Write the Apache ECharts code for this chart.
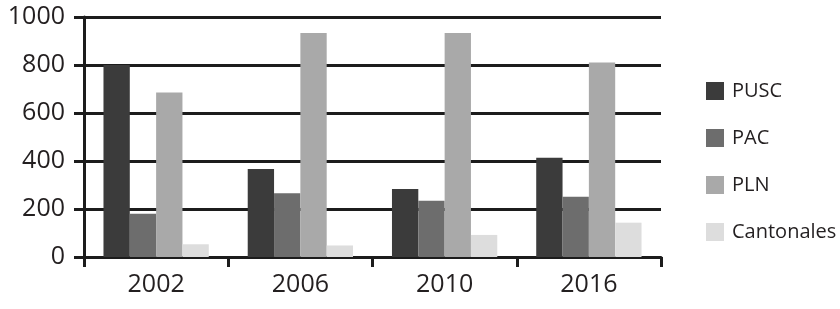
<!DOCTYPE html>
<html>
<head>
<meta charset="utf-8">
<style>
  html, body { margin: 0; padding: 0; background: #fff; }
  #chart { width: 840px; height: 309px; }
</style>
<script src="https://cdn.jsdelivr.net/npm/echarts@6/dist/echarts.min.js"></script>
</head>
<body>
<div id="chart"></div>
<script>
// datos
const years = ['2002', '2006', '2010', '2016'];
const pusc = [800, 367, 283, 414];
const pac = [180, 266, 234, 251];
const pln = [685, 933, 933, 810];
const cantonales = [53, 48, 92, 143];
const yTicks = [0, 200, 400, 600, 800, 1000];

const names = ['PUSC', 'PAC', 'PLN', 'Cantonales'];
const values = [pusc, pac, pln, cantonales];
const colors = ['#3b3b3b', '#6d6d6d', '#a9a9a9', '#dddddd'];

const textColor = '#231f20';
const lineColor = '#1c1c1c';
const font = '"Open Sans", "Noto Sans", sans-serif';

const chart = echarts.init(document.getElementById('chart'));

chart.setOption({
  animation: false,
  backgroundColor: '#fff',
  grid: { left: 84, right: 179, top: 17, bottom: 52 },
  legend: {
    orient: 'vertical',
    left: 701,
    top: 76,
    icon: 'rect',
    itemWidth: 18,
    itemHeight: 18,
    itemGap: 27,
    textStyle: { fontFamily: font, fontSize: 20, color: textColor, lineHeight: 18, padding: [0, 0, 0, 3] },
    data: names
  },
  xAxis: {
    type: 'category',
    data: years,
    boundaryGap: true,
    axisLine: { lineStyle: { color: lineColor, width: 3 } },
    axisTick: { show: true, length: 10, lineStyle: { color: lineColor, width: 3 } },
    axisLabel: { fontFamily: font, fontSize: 25, color: textColor, margin: 15 }
  },
  yAxis: {
    type: 'value',
    min: yTicks[0],
    max: yTicks[yTicks.length - 1],
    interval: 200,
    axisLine: { show: true, lineStyle: { color: lineColor, width: 3 } },
    axisTick: { show: true, length: 10, lineStyle: { color: lineColor, width: 3 } },
    splitLine: { lineStyle: { color: lineColor, width: 3 } },
    axisLabel: {
      fontFamily: font, fontSize: 25, color: textColor, margin: 19,
      formatter: v => String(v)
    }
  },
  series: names.map((n, i) => ({
    name: n,
    type: 'bar',
    data: values[i],
    barGap: '0%',
    barCategoryGap: '27%',
    itemStyle: { color: colors[i] }
  }))
});
</script>
</body>
</html>
